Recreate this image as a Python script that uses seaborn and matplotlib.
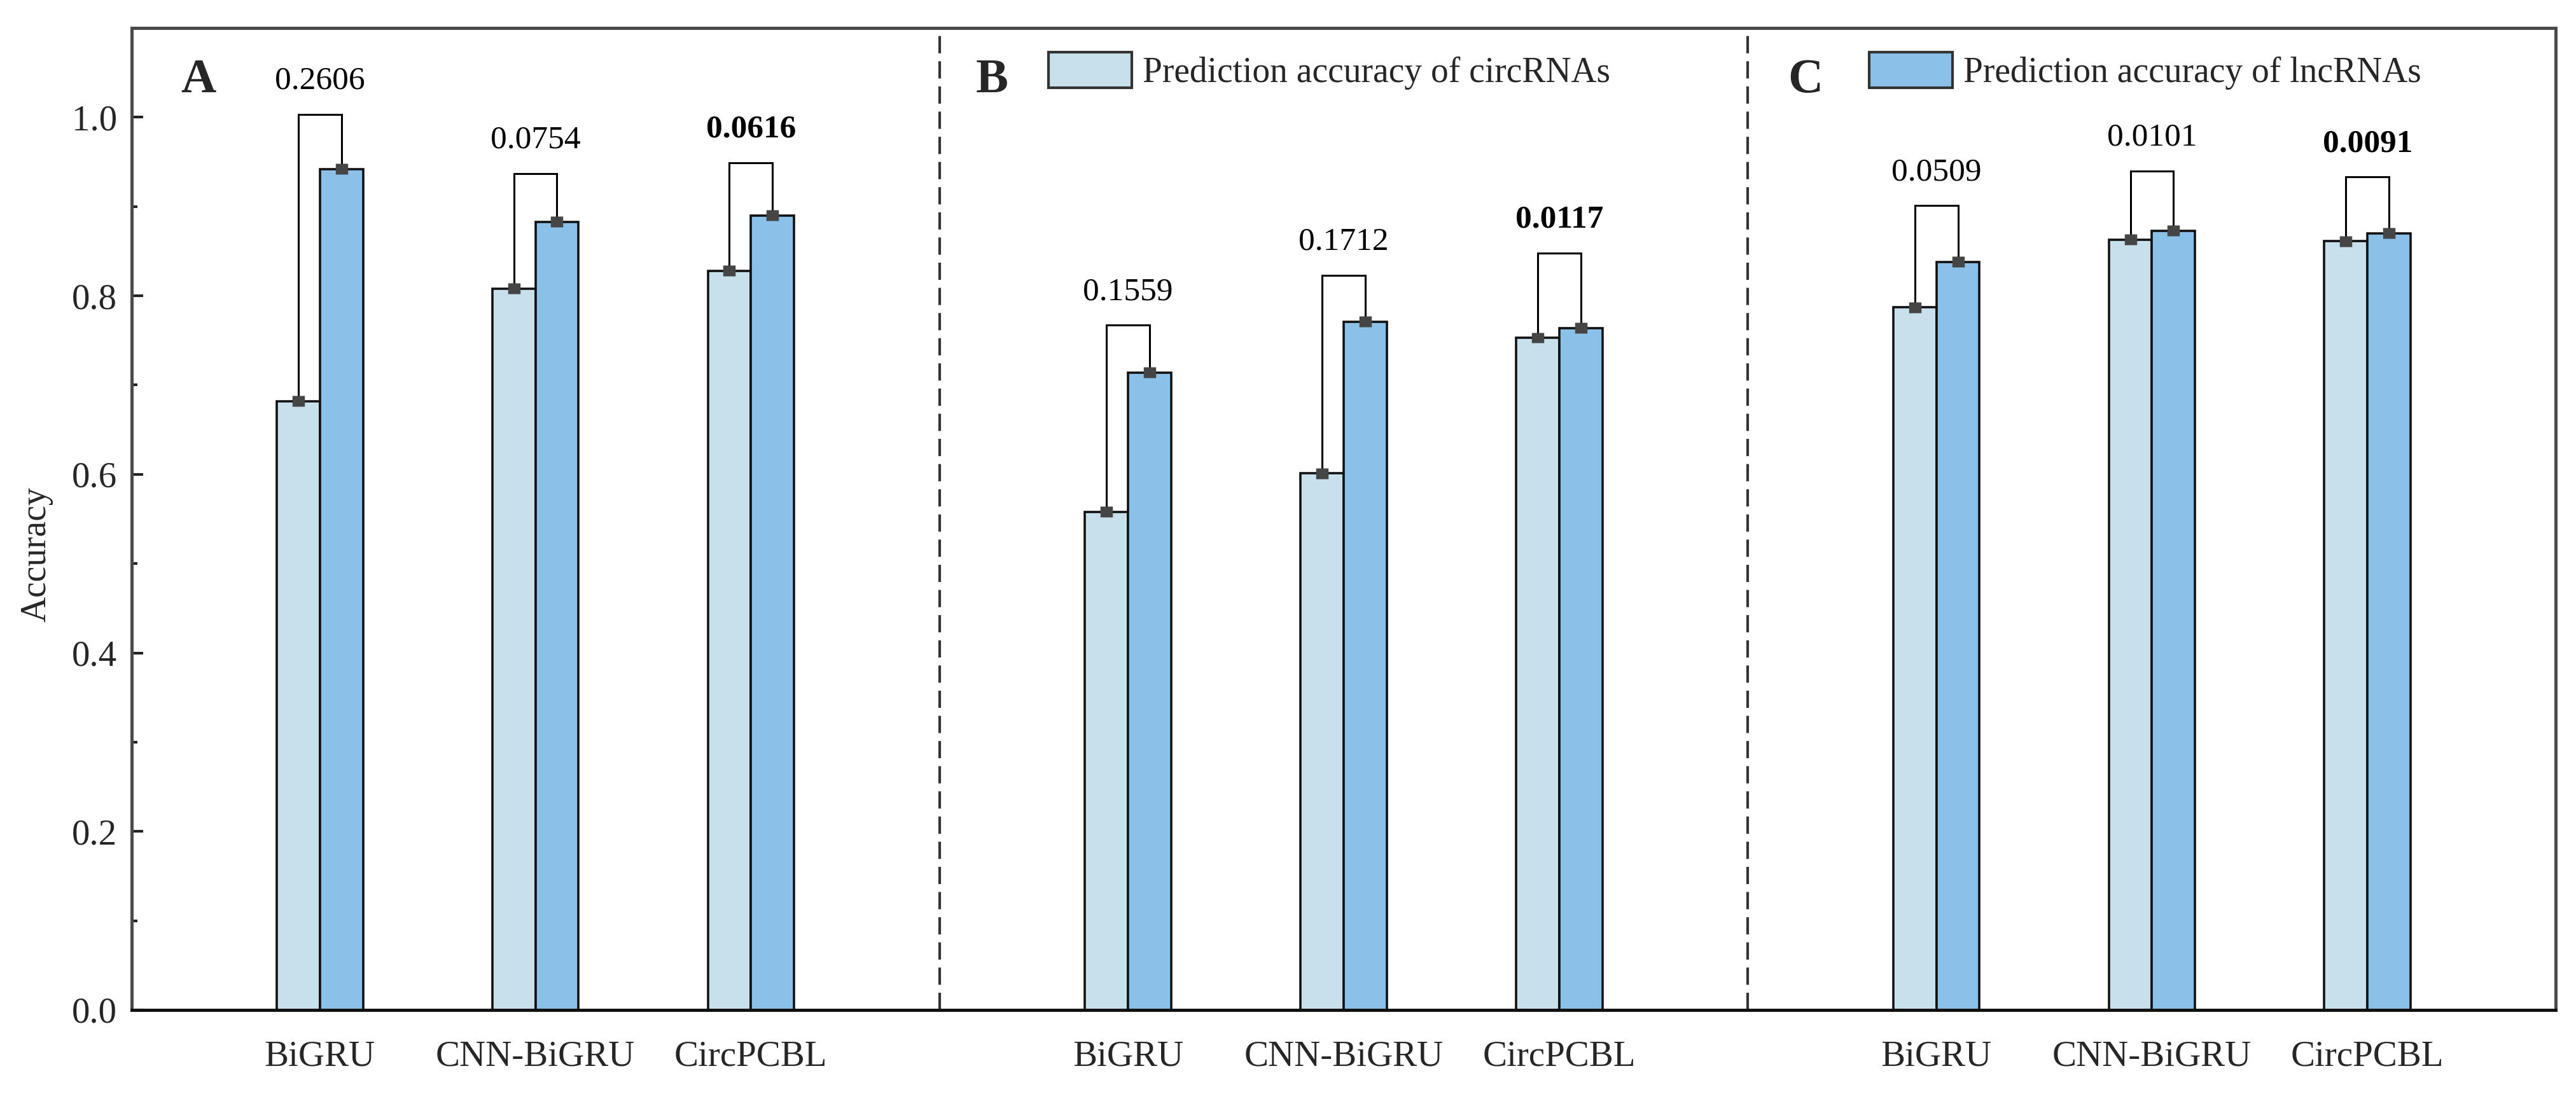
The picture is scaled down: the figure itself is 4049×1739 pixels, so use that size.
import numpy as np
import pandas as pd
import matplotlib
matplotlib.use("Agg")
import matplotlib.pyplot as plt
import seaborn as sns
from matplotlib.patches import Patch
from matplotlib.ticker import FixedLocator

# ---------------- data ----------------
panels = ["A", "B", "C"]
models = ["BiGRU", "CNN-BiGRU", "CircPCBL"]
series = ["Prediction accuracy of circRNAs", "Prediction accuracy of lncRNAs"]

circ_acc = [0.682, 0.808, 0.828, 0.558, 0.601, 0.753, 0.787, 0.863, 0.861]
lnc_acc = [0.942, 0.883, 0.890, 0.714, 0.771, 0.764, 0.838, 0.873, 0.870]
circ_err = [0.006, 0.006, 0.006, 0.006, 0.006, 0.006, 0.006, 0.006, 0.006]
lnc_err = [0.006, 0.006, 0.006, 0.006, 0.006, 0.006, 0.006, 0.006, 0.006]
p_values = ["0.2606", "0.0754", "0.0616", "0.1559", "0.1712", "0.0117",
            "0.0509", "0.0101", "0.0091"]
p_bold = [False, False, True, False, False, True, False, False, True]
bracket_top = [1.003, 0.937, 0.949, 0.767, 0.823, 0.848, 0.901, 0.940, 0.933]

colors = ["#C8DFEC", "#8BC1E9"]

# ---------------- style ----------------
sns.set_style("white")
plt.rcParams["font.family"] = ["Liberation Serif", "DejaVu Serif"]

PANEL_STEP = 3.75
rows = []
for p in range(len(panels)):
    for m in range(len(models)):
        i = p * len(models) + m
        pos = p * PANEL_STEP + m
        rows.append(dict(pos=pos, acc=circ_acc[i], series=series[0]))
        rows.append(dict(pos=pos, acc=lnc_acc[i], series=series[1]))
df = pd.DataFrame(rows)

W, H = 4049, 1739
fig = plt.figure(figsize=(W / 100, H / 100), dpi=100)
ax = fig.add_axes([207 / W, 1 - 1588 / H, 3810 / W, 1544 / H])

sns.barplot(data=df, x="pos", y="acc", hue="series", hue_order=series,
            palette=colors, saturation=1, native_scale=True, width=0.4,
            edgecolor="#111111", linewidth=2.6, errorbar=None,
            legend=False, ax=ax)

# bar centres from the drawn containers
def centres(container):
    bars = sorted(container, key=lambda b: b.get_x())
    return ([b.get_x() + b.get_width() / 2 for b in bars],
            [b.get_height() for b in bars])

cx_l, h_l = centres(ax.containers[0])
cx_d, h_d = centres(ax.containers[1])

# brackets + p-values
for i in range(len(cx_l)):
    xl, xr = cx_l[i], cx_d[i]
    top = bracket_top[i]
    ax.plot([xl, xl, xr, xr], [h_l[i], top, top, h_d[i]], color="black",
            lw=2.2, solid_joinstyle="miter", zorder=3)
    ax.annotate(p_values[i], xy=((xl + xr) / 2, top), xytext=(0, 29),
                textcoords="offset points", ha="center", va="baseline",
                fontsize=37, fontweight="bold" if p_bold[i] else "normal",
                color="black", zorder=5)

# small error bars (dark squares)
for cx, hh, ee in ((cx_l, h_l, circ_err), (cx_d, h_d, lnc_err)):
    eb = ax.errorbar(cx, hh, yerr=ee, fmt="none", ecolor="#454545",
                     elinewidth=14, capsize=0, zorder=4)
    for lc in eb[2]:
        lc.set_capstyle("butt")

# dashed separators
for p in range(len(panels) - 1):
    ax.axvline(p * PANEL_STEP + (len(models) - 1 + PANEL_STEP) / 2,
               color="#333333", lw=3, dashes=(6.5, 3), zorder=1)

# axes
ax.set_xlim(-0.873, (len(panels) - 1) * PANEL_STEP + len(models) - 1 + 0.873)
ax.set_ylim(0, 1.1)
ticks = sorted(df["pos"].unique())
ax.set_xticks(ticks)
ax.set_xticklabels(models * len(panels))
ax.yaxis.set_major_locator(FixedLocator([0, 0.2, 0.4, 0.6, 0.8, 1.0]))
ax.yaxis.set_minor_locator(FixedLocator([0.1, 0.3, 0.5, 0.7, 0.9]))
ax.set_yticklabels(["0.0", "0.2", "0.4", "0.6", "0.8", "1.0"])
ax.tick_params(axis="x", length=0, pad=34, labelsize=41)
ax.tick_params(axis="y", which="major", direction="in", length=13, width=3,
               color="#222222", pad=16.5, labelsize=41, left=True)
ax.tick_params(axis="y", which="minor", direction="in", length=6.5, width=3,
               color="#222222", left=True)
ax.set_xlabel("")
ax.set_ylabel("Accuracy", fontsize=40)
ax.yaxis.set_label_coords(-0.0325, 0.464)

for side in ["left", "top", "right"]:
    ax.spines[side].set_color("#4a4a4a")
    ax.spines[side].set_linewidth(3.6)
    ax.spines[side].set_visible(True)
ax.spines["bottom"].set_color("#111111")
ax.spines["bottom"].set_linewidth(3.6)
ax.spines["bottom"].set_visible(True)

# panel letters
for letter, xf in zip(panels, [0.0202, 0.3483, 0.6832]):
    ax.text(xf, 0.9346, letter, transform=ax.transAxes, ha="left",
            va="baseline", fontsize=55, fontweight="bold")

# legends (one entry each)
leg_x = [0.3782, 0.7168]
legs = []
for k in range(2):
    h = Patch(facecolor=colors[k], edgecolor="#333333", linewidth=3)
    lg = ax.legend([h], [series[k]], loc="upper left",
                   bbox_to_anchor=(leg_x[k], 0.9754), frameon=False,
                   fontsize=40, borderpad=0, borderaxespad=0,
                   handlelength=2.36, handleheight=1.17, handletextpad=0.3)
    legs.append(lg)
ax.add_artist(legs[0])

fig.savefig("out.png", dpi=100)
